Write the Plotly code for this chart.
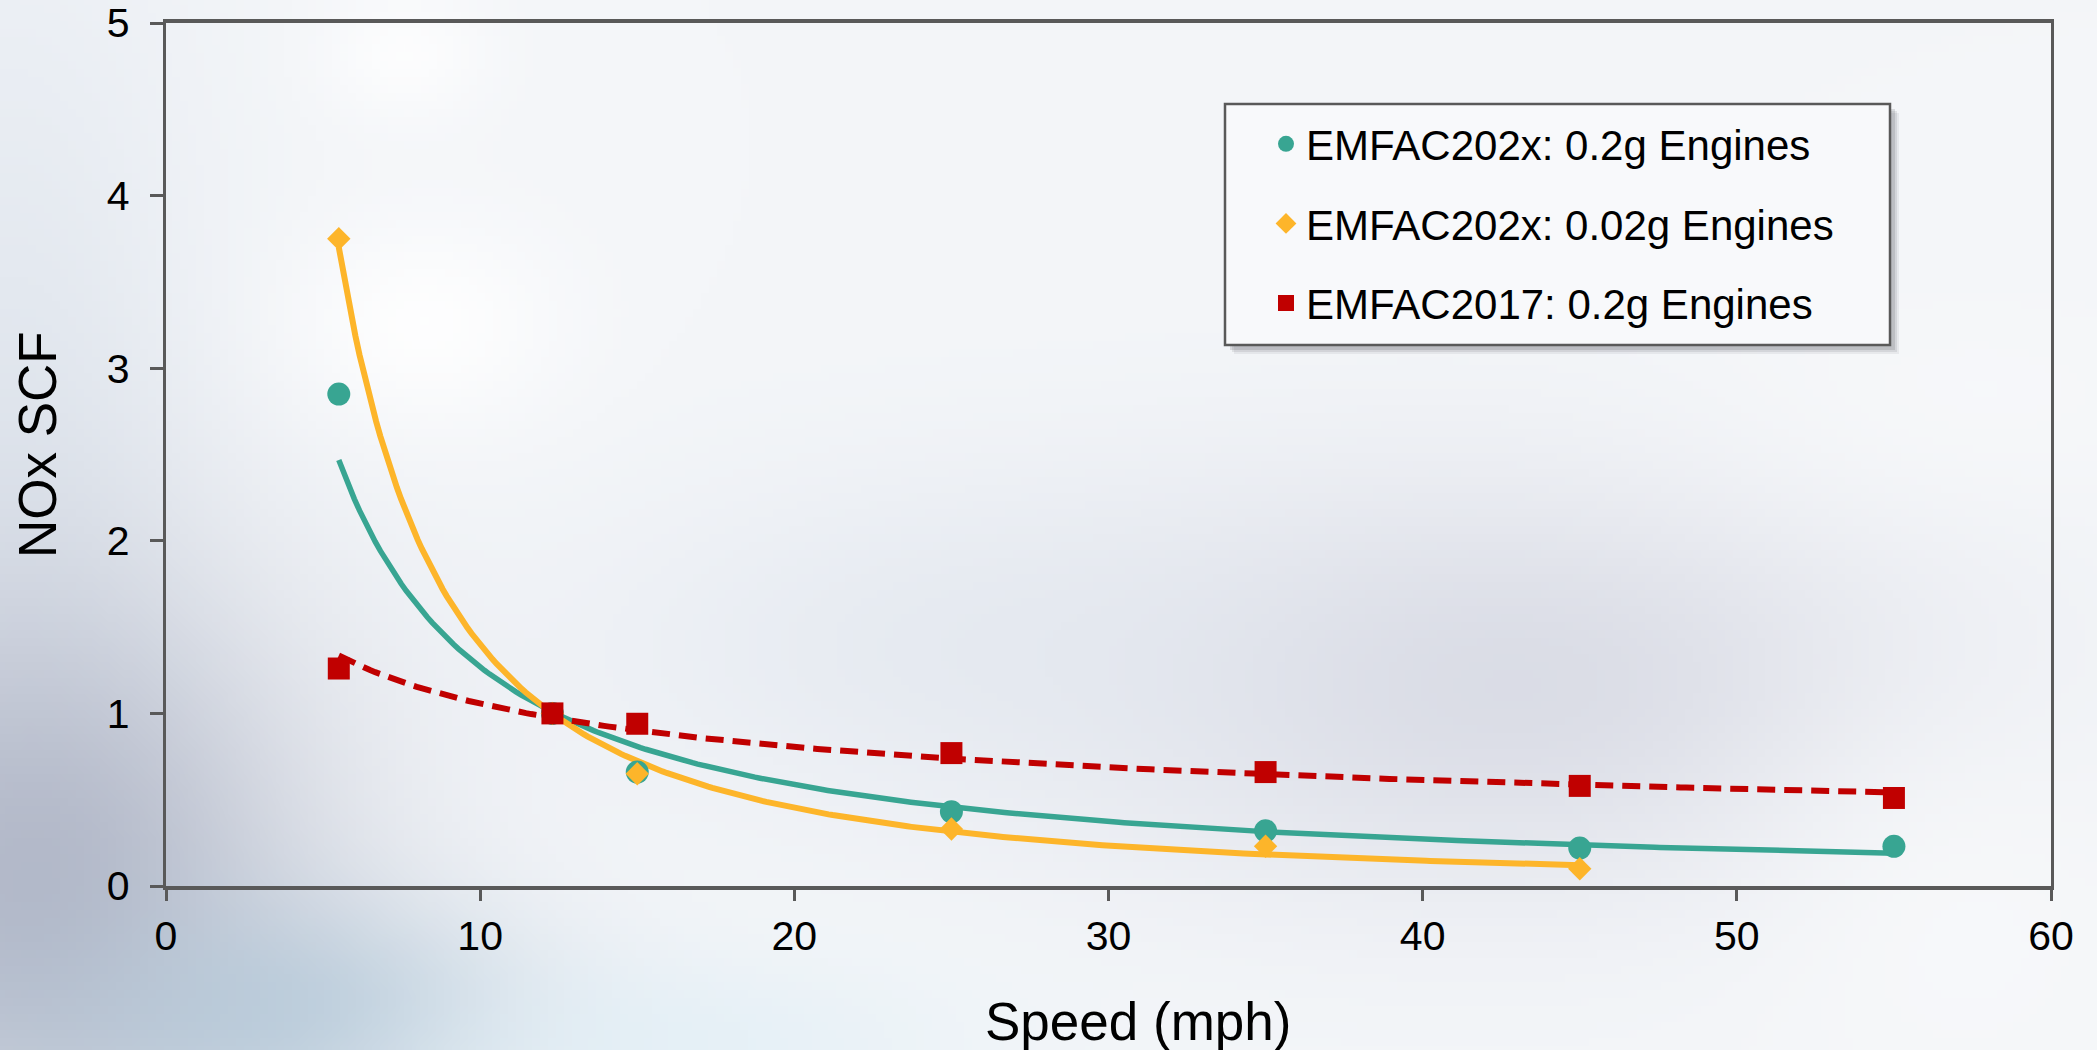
import base64
import struct
import zlib

import numpy as np
import plotly.graph_objects as go

# ---- data -------------------------------------------------------------
speed_a = [5.5, 12.3, 15, 25, 35, 45, 55]
scf_202x_02g = [2.85, 1.00, 0.66, 0.43, 0.32, 0.22, 0.23]

speed_b = [5.5, 12.3, 15, 25, 35, 45]
scf_202x_002g = [3.75, 1.00, 0.65, 0.33, 0.23, 0.10]

speed_c = [5.5, 12.3, 15, 25, 35, 45, 55]
scf_2017_02g = [1.26, 1.00, 0.94, 0.77, 0.66, 0.58, 0.51]

series_names = [
    "EMFAC202x: 0.2g Engines",
    "EMFAC202x: 0.02g Engines",
    "EMFAC2017: 0.2g Engines",
]
x_ticks = [0, 10, 20, 30, 40, 50, 60]
y_ticks = [0, 1, 2, 3, 4, 5]

TEAL = "#38A592"
GOLD = "#FDB52A"
RED = "#C00000"
AXIS = "#595959"
FONT = "Liberation Sans, Arial, sans-serif"

W, H = 2097, 1050
ML, MR, MT, MB = 166, 46, 23, 164
PW, PH = W - ML - MR, H - MT - MB


# ---- soft slide background, rendered to a small PNG and stretched -----
def make_background(w=262, h=131):
    yy, xx = np.mgrid[0:h, 0:w].astype(float)
    xx *= W / w
    yy *= H / h
    img = np.zeros((h, w, 3))
    img[:] = (244, 246, 249)

    def blob(cx, cy, rx, ry, color, strength):
        g = np.exp(-(((xx - cx) / rx) ** 2 + ((yy - cy) / ry) ** 2))
        g = (g * strength)[..., None]
        img[:] = img * (1 - g) + np.array(color, float) * g

    blob(0, 450, 200, 520, (224, 230, 238), 0.85)
    blob(1500, 680, 420, 200, (212, 214, 225), 0.8)
    blob(950, 640, 380, 170, (222, 228, 237), 0.55)
    blob(30, 880, 280, 300, (174, 180, 197), 0.92)
    blob(280, 1010, 240, 110, (176, 197, 214), 0.75)
    blob(680, 1045, 280, 90, (222, 238, 246), 0.6)
    blob(420, 320, 140, 110, (255, 255, 255), 0.9)
    blob(400, 50, 90, 70, (255, 255, 255), 0.8)
    blob(1950, 900, 200, 200, (250, 251, 252), 0.6)
    blob(1950, 400, 260, 120, (250, 251, 252), 0.5)
    return np.clip(img, 0, 255).astype(np.uint8)


def png_uri(arr):
    h, w, _ = arr.shape
    raw = b"".join(b"\x00" + arr[r].tobytes() for r in range(h))

    def chunk(tag, data):
        body = tag + data
        return struct.pack(">I", len(data)) + body + struct.pack(">I", zlib.crc32(body) & 0xFFFFFFFF)

    png = (b"\x89PNG\r\n\x1a\n"
           + chunk(b"IHDR", struct.pack(">IIBBBBB", w, h, 8, 2, 0, 0, 0))
           + chunk(b"IDAT", zlib.compress(raw, 9))
           + chunk(b"IEND", b""))
    return "data:image/png;base64," + base64.b64encode(png).decode()


# ---- power-law trendlines (least squares in log-log space) ----------
def power_trend(xs, ys, n=300):
    lx, ly = np.log(xs), np.log(ys)
    b, ln_a = np.polyfit(lx, ly, 1)
    xf = np.linspace(min(xs), max(xs), n)
    return xf, np.exp(ln_a) * xf ** b


fig = go.Figure()

series = [
    (speed_a, scf_202x_02g, TEAL, "circle", 23, "solid", 5.5),
    (speed_b, scf_202x_002g, GOLD, "diamond", 18, "solid", 6),
    (speed_c, scf_2017_02g, RED, "square", 22, "18px,9px", 6),
]

for xs, ys, col, _, _, dash, lw in series:
    xf, yf = power_trend(xs, ys)
    fig.add_trace(go.Scatter(x=xf, y=yf, mode="lines", showlegend=False,
                             hoverinfo="skip",
                             line=dict(color=col, width=lw, dash=dash)))

for i, (xs, ys, col, sym, size, _, _) in enumerate(series):
    fig.add_trace(go.Scatter(x=xs, y=ys, mode="markers", name=series_names[i],
                             legendgroup=f"g{i}",
                             marker=dict(color=col, symbol=sym, size=size,
                                         line=dict(width=0))))


def px_to_paper_x(px):
    return (px - ML) / PW


def px_to_paper_y(py):
    return (H - MB - py) / PH


# legend frame with a soft drop shadow
box = dict(x0=px_to_paper_x(1225), x1=px_to_paper_x(1890),
           y0=px_to_paper_y(345), y1=px_to_paper_y(104))
for off, alpha in [(9, 0.07), (7, 0.11), (5, 0.15)]:
    fig.add_shape(type="rect", xref="paper", yref="paper",
                  x0=box["x0"] + off / PW, x1=box["x1"] + off / PW,
                  y0=box["y0"] - off / PH, y1=box["y1"] - off / PH,
                  line=dict(width=0), fillcolor=f"rgba(60,60,70,{alpha})",
                  layer="above")
fig.add_shape(type="rect", xref="paper", yref="paper", **box,
              line=dict(color=AXIS, width=2.5), fillcolor="#F8F9FB",
              layer="above")

fig.add_layout_image(dict(
    source=png_uri(make_background()), xref="paper", yref="paper",
    x=-ML / PW, y=1 + MT / PH, sizex=W / PW, sizey=H / PH,
    sizing="stretch", xanchor="left", yanchor="top", layer="below"))

axis_common = dict(showline=True, linecolor=AXIS, mirror=True,
                   ticks="outside", tickwidth=3, tickcolor=AXIS,
                   showgrid=False, zeroline=False, automargin=False,
                   tickfont=dict(family=FONT, size=41, color="black"))

fig.update_xaxes(range=[0, 60], tickvals=x_ticks, linewidth=4, ticklen=11,
                 ticklabelstandoff=0, **axis_common)
fig.update_yaxes(range=[0, 5], tickvals=y_ticks, linewidth=3.3, ticklen=13,
                 ticklabelstandoff=12, **axis_common)

fig.add_annotation(text="Speed (mph)", xref="paper", yref="paper",
                   x=px_to_paper_x(1138), y=px_to_paper_y(1021),
                   xanchor="center", yanchor="middle", showarrow=False,
                   font=dict(family=FONT, size=53, color="black"))
fig.add_annotation(text="NOx SCF", xref="paper", yref="paper", textangle=-90,
                   x=px_to_paper_x(37), y=px_to_paper_y(445),
                   xanchor="center", yanchor="middle", showarrow=False,
                   font=dict(family=FONT, size=53, color="black"))

fig.update_layout(
    width=W, height=H,
    margin=dict(l=ML, r=MR, t=MT, b=MB, autoexpand=False),
    paper_bgcolor="#F4F6F9", plot_bgcolor="rgba(0,0,0,0)",
    font=dict(family=FONT, color="black"),
    legend=dict(x=px_to_paper_x(1266), y=px_to_paper_y(110),
                xanchor="left", yanchor="top",
                bgcolor="rgba(0,0,0,0)", borderwidth=0,
                font=dict(family=FONT, size=42, color="black"),
                tracegroupgap=22, itemwidth=30),
    showlegend=True,
)

fig.write_html("out.html")
